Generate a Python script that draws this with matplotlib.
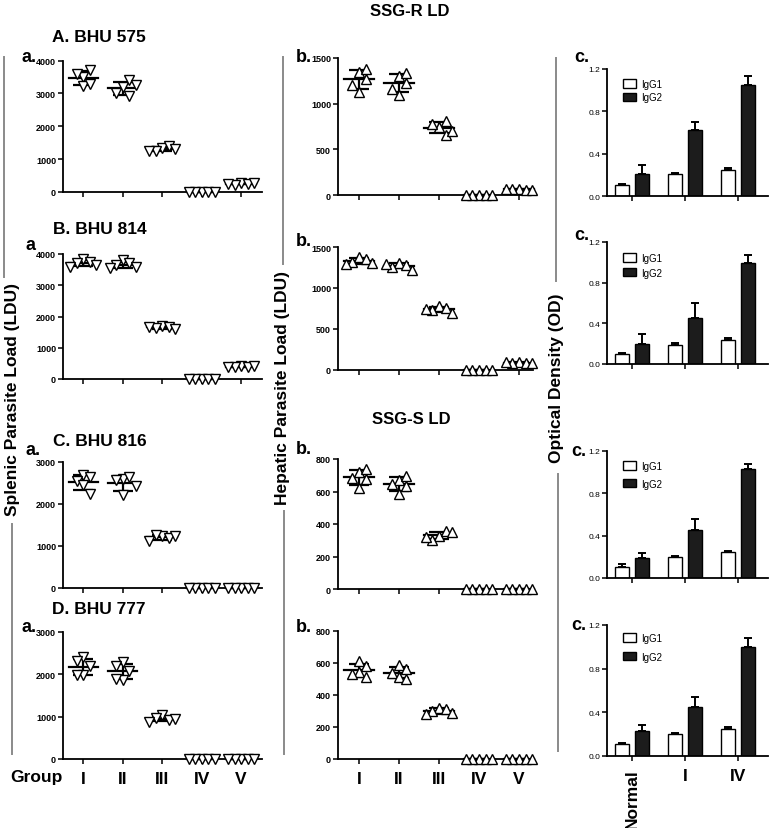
import numpy as np
import matplotlib
matplotlib.use("Agg")
import matplotlib.pyplot as plt
from matplotlib.lines import Line2D
from matplotlib.patches import Patch

plt.rcParams['font.family'] = ['Liberation Sans', 'DejaVu Sans']

# ---------------- data ----------------
groups = ["I", "II", "III", "IV", "V"]
ig_groups = ["Normal", "I", "IV"]

# splenic parasite load (LDU), 5 animals per group
spl_575 = [[3500, 3720, 3220, 3300, 3590], [3200, 3410, 2930, 3000, 3260],
           [1350, 1400, 1250, 1300, 1240], [0, 0, 0, 0, 0], [270, 240, 220, 260, 250]]
spl_814 = [[3850, 3750, 3700, 3650, 3600], [3800, 3700, 3650, 3600, 3550],
           [1700, 1650, 1620, 1600, 1680], [0, 0, 0, 0, 0], [420, 400, 380, 410, 390]]
spl_816 = [[2680, 2640, 2550, 2450, 2250], [2600, 2640, 2560, 2430, 2220],
           [1250, 1180, 1270, 1230, 1120], [0, 0, 0, 0, 0], [0, 0, 0, 0, 0]]
spl_777 = [[2410, 2200, 2310, 1980, 1990], [2290, 2090, 2200, 1870, 1900],
           [1030, 920, 980, 950, 880], [0, 0, 0, 0, 0], [0, 0, 0, 0, 0]]

# hepatic parasite load (LDU)
hep_575 = [[1350, 1380, 1270, 1130, 1200], [1300, 1335, 1225, 1100, 1165],
           [740, 805, 660, 780, 705], [0, 0, 0, 0, 0], [65, 55, 70, 60, 65]]
hep_814 = [[1380, 1350, 1320, 1300, 1290], [1300, 1280, 1260, 1220, 1290],
           [780, 760, 730, 700, 740], [0, 0, 0, 0, 0], [95, 90, 85, 90, 95]]
hep_816 = [[720, 740, 685, 675, 620], [672, 693, 645, 635, 585],
           [325, 355, 300, 350, 320], [0, 0, 0, 0, 0], [0, 0, 0, 0, 0]]
hep_777 = [[610, 580, 545, 530, 510], [590, 560, 540, 510, 500],
           [320, 310, 300, 290, 280], [0, 0, 0, 0, 0], [0, 0, 0, 0, 0]]

# optical density (mean, SEM)
igg1_575 = [0.10, 0.21, 0.248]; igg1_575_err = [0.01, 0.01, 0.012]
igg2_575 = [0.204, 0.627, 1.048]; igg2_575_err = [0.085, 0.075, 0.088]
igg1_814 = [0.10, 0.19, 0.24]; igg1_814_err = [0.01, 0.012, 0.02]
igg2_814 = [0.20, 0.45, 0.99]; igg2_814_err = [0.10, 0.15, 0.08]
igg1_816 = [0.107, 0.198, 0.249]; igg1_816_err = [0.022, 0.012, 0.009]
igg2_816 = [0.186, 0.453, 1.027]; igg2_816_err = [0.05, 0.104, 0.05]
igg1_777 = [0.109, 0.20, 0.245]; igg1_777_err = [0.009, 0.009, 0.025]
igg2_777 = [0.23, 0.445, 0.997]; igg2_777_err = [0.058, 0.094, 0.083]

# ---------------- layout helpers ----------------
W, H = 769, 829
fig = plt.figure(figsize=(W / 100, H / 100), dpi=100)


def add_ax(x0, x1, ytop, ybot):
    return fig.add_axes([x0 / W, 1 - ybot / H, (x1 - x0) / W, (ybot - ytop) / H])


def ftext(x, y, s, **kw):
    fig.text(x / W, 1 - y / H, s, **kw)


def fline(x, y0, y1):
    fig.add_artist(Line2D([x / W, x / W], [1 - y0 / H, 1 - y1 / H],
                          color='#8a8a8a', lw=1.4, transform=fig.transFigure))


def style_axes(ax, ymax, yticks, fs=6.5, bold=True):
    for s in ['top', 'right']:
        ax.spines[s].set_visible(False)
    for s in ['left', 'bottom']:
        ax.spines[s].set_linewidth(1.3)
    ax.spines['left'].set_bounds(0, ymax)
    ax.set_ylim(0, ymax)
    ax.set_yticks(yticks)
    ax.tick_params(axis='both', length=3.5, width=1.1, pad=1.5, labelsize=fs)
    for lab in ax.get_yticklabels():
        lab.set_fontweight('bold' if bold else 'normal')


def swarm_offsets(vals, ymax, ax_h_px, step):
    thr = 9.0 / ax_h_px * ymax
    placed = []
    offs = []
    for v in vals:
        for k in [0, 1, -1, 2, -2, 3, -3]:
            x = k * step
            if all(not (abs(x - px) < step * 0.99 and abs(v - py) < thr) for px, py in placed):
                break
        placed.append((x, v))
        offs.append(x)
    return offs


def scatter_panel(x0, x1, ytop, ybot, xlim, data, ymax, yticks, marker, step):
    ax = add_ax(x0, x1, ytop, ybot)
    ax.set_xlim(*xlim)
    style_axes(ax, ymax, yticks)
    for i, vals in enumerate(data):
        xc = i + 1
        vals = np.array(vals, dtype=float)
        offs = swarm_offsets(vals, ymax, ybot - ytop, step)
        m = vals.mean()
        sd = vals.std(ddof=1)
        ax.plot([xc - 0.37, xc + 0.37], [m, m], color='black', lw=1.6, zorder=2, clip_on=False)
        ax.errorbar([xc], [m], yerr=[sd], fmt='none', ecolor='black', elinewidth=1.6,
                    capsize=7, capthick=1.6, zorder=2, clip_on=False)
        ax.plot(xc + np.array(offs), vals, linestyle='none', marker=marker, ms=6.5,
                mfc='white', mec='black', mew=1.0, zorder=3, clip_on=False)
    ax.set_xticks(range(1, 6))
    ax.set_xticklabels([''] * 5)
    return ax


def bar_panel(x0, x1, ytop, ybot, g1, g1e, g2, g2e, leg_y, leg_sp):
    ax = add_ax(x0, x1, ytop, ybot)
    style_axes(ax, 1.2, [0.0, 0.4, 0.8, 1.2], fs=6, bold=False)
    ax.set_yticklabels(['0.0', '0.4', '0.8', '1.2'])
    x = np.arange(len(ig_groups))
    bw = 0.27
    ax.bar(x - 0.19, g1, bw, color='white', edgecolor='black', lw=1.0, zorder=2)
    ax.bar(x + 0.19, g2, bw, color='#1c1c1c', edgecolor='black', lw=1.0, zorder=2)
    ax.errorbar(x - 0.19, g1, yerr=[np.zeros(3), g1e], fmt='none', ecolor='black',
                elinewidth=1.4, capsize=3, capthick=1.4, zorder=3)
    ax.errorbar(x + 0.19, g2, yerr=[np.zeros(3), g2e], fmt='none', ecolor='black',
                elinewidth=1.4, capsize=3, capthick=1.4, zorder=3)
    ax.set_xlim(-0.47, 2.57)
    ax.set_xticks(x)
    ax.set_xticklabels([''] * 3)
    handles = [Patch(facecolor='white', edgecolor='black', lw=1.0, label='IgG1'),
               Patch(facecolor='#1c1c1c', edgecolor='black', lw=1.0, label='IgG2')]
    ax.legend(handles=handles, loc='upper left', frameon=False, fontsize=7,
              handlelength=1.3, handleheight=0.9, handletextpad=0.6,
              labelspacing=leg_sp, borderpad=0,
              bbox_to_anchor=(0.07, 1 - (leg_y - ytop) / (ybot - ytop)))
    return ax


# ---------------- column geometry ----------------
c1 = (63, 262, (0.49, 5.53))
c2 = (338, 533, (0.475, 5.35))
c3 = (607, 768)

rows_a = [(61.5, 193, 4000, [0, 1000, 2000, 3000, 4000], spl_575),
          (255, 380, 4000, [0, 1000, 2000, 3000, 4000], spl_814),
          (463, 589, 3000, [0, 1000, 2000, 3000], spl_816),
          (633, 760, 3000, [0, 1000, 2000, 3000], spl_777)]
rows_b = [(59, 196, 1500, [0, 500, 1000, 1500], hep_575),
          (248, 371, 1500, [0, 500, 1000, 1500], hep_814),
          (460, 590, 800, [0, 200, 400, 600, 800], hep_816),
          (632, 760, 800, [0, 200, 400, 600, 800], hep_777)]
rows_c = [(70, 197, igg1_575, igg1_575_err, igg2_575, igg2_575_err, 75, 0.35),
          (243, 365, igg1_814, igg1_814_err, igg2_814, igg2_814_err, 249, 0.5),
          (452, 579, igg1_816, igg1_816_err, igg2_816, igg2_816_err, 457, 0.8),
          (626, 757, igg1_777, igg1_777_err, igg2_777, igg2_777_err, 629, 0.9)]

axes_a = []
for (yt, yb, ymax, yt_ticks, d) in rows_a:
    axes_a.append(scatter_panel(c1[0], c1[1], yt, yb, c1[2], d, ymax, yt_ticks, 'v', 0.165))
axes_b = []
for (yt, yb, ymax, yt_ticks, d) in rows_b:
    axes_b.append(scatter_panel(c2[0], c2[1], yt, yb, c2[2], d, ymax, yt_ticks, '^', 0.165))
axes_c = []
for (yt, yb, g1, g1e, g2, g2e, ly, ls) in rows_c:
    axes_c.append(bar_panel(c3[0], c3[1], yt, yb, g1, g1e, g2, g2e, ly, ls))

BIG = 12.5

# bottom category labels
for ax in (axes_a[-1], axes_b[-1]):
    ax.set_xticklabels(groups, fontsize=BIG, fontweight='bold')
    ax.tick_params(axis='x', pad=5)
axes_c[-1].set_xticklabels(ig_groups, fontsize=BIG, fontweight='bold')
axes_c[-1].tick_params(axis='x', pad=5)
lbls = axes_c[-1].get_xticklabels()
lbls[0].set_rotation(90)
lbls[0].set_va('top')

ftext(10, 778, 'Group', fontsize=BIG, fontweight='bold', va='center', ha='left')

# titles
ftext(410, 12, 'SSG-R LD', fontsize=12, fontweight='bold', ha='center', va='center')
ftext(411, 420, 'SSG-S LD', fontsize=12, fontweight='bold', ha='center', va='center')
ftext(52, 38, 'A. BHU 575', fontsize=BIG, fontweight='bold', ha='left', va='center')
ftext(53, 230, 'B. BHU 814', fontsize=BIG, fontweight='bold', ha='left', va='center')
ftext(53, 441, 'C. BHU 816', fontsize=BIG, fontweight='bold', ha='left', va='center')
ftext(52, 610, 'D. BHU 777', fontsize=BIG, fontweight='bold', ha='left', va='center')

# panel letters
for (x, y, s) in [(22, 58, 'a.'), (25, 245, 'a'), (25, 451, 'a.'), (22, 627, 'a.'),
                  (296, 58, 'b.'), (296, 242, 'b.'), (296, 450, 'b.'), (296, 627, 'b.'),
                  (574, 58, 'c.'), (574, 236, 'c.'), (571, 452, 'c.'), (571, 626, 'c.')]:
    ftext(x, y, s, fontsize=13, fontweight='bold', ha='left', va='center')

# y labels
ftext(13, 400, 'Splenic Parasite Load (LDU)', fontsize=BIG, fontweight='bold',
      rotation=90, ha='center', va='center')
ftext(283, 388, 'Hepatic Parasite Load (LDU)', fontsize=BIG, fontweight='bold',
      rotation=90, ha='center', va='center')
ftext(557, 378, 'Optical Density (OD)', fontsize=BIG, fontweight='bold',
      rotation=90, ha='center', va='center')

# separator lines
fline(4, 58, 278)
fline(12, 525, 755)
fline(283, 58, 265)
fline(284, 512, 755)
fline(556, 59, 282)
fline(558, 475, 752)

fig.savefig('out.png', dpi=100)
